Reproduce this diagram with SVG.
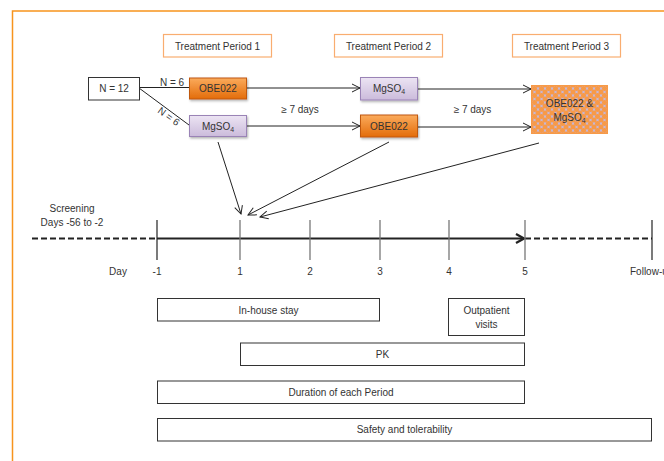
<svg xmlns="http://www.w3.org/2000/svg" width="664" height="461" viewBox="0 0 664 461">
<style>
text{font-family:"Liberation Sans","Open Sans",Arial,sans-serif;font-size:10px;fill:#333;}
.c{text-anchor:middle;}
.hdr{fill:#fff;stroke:#f9ad70;stroke-width:1.2;}
.plain{fill:#fff;stroke:#333;stroke-width:1;}
.ln{stroke:#222;stroke-width:1;fill:none;}
.tick{stroke:#777;stroke-width:1.3;}
.tickb{stroke:#222;stroke-width:1.2;}
</style>
<defs>
<linearGradient id="gO" x1="0" y1="0" x2="0" y2="1"><stop offset="0" stop-color="#fbab5c"/><stop offset="1" stop-color="#e36c0a"/></linearGradient>
<linearGradient id="gM" x1="0" y1="0" x2="0" y2="1"><stop offset="0" stop-color="#ece4f3"/><stop offset="1" stop-color="#cbbbdb"/></linearGradient>
<pattern id="pat" width="7" height="7" patternUnits="userSpaceOnUse" x="531" y="85">
<rect width="7" height="7" fill="#c6b6d6"/>
<circle cx="0" cy="0" r="2.5" fill="#f79a48"/><circle cx="7" cy="0" r="2.5" fill="#f79a48"/><circle cx="0" cy="7" r="2.5" fill="#f79a48"/><circle cx="7" cy="7" r="2.5" fill="#f79a48"/><circle cx="3.5" cy="3.5" r="2.5" fill="#f79a48"/>
</pattern>
<marker id="ah" markerWidth="10" markerHeight="10" refX="9" refY="5" orient="auto" markerUnits="userSpaceOnUse"><path d="M1,1 L9,5 L1,9" fill="none" stroke="#222" stroke-width="1"/></marker>
<marker id="ahb" markerWidth="12" markerHeight="12" refX="10" refY="6" orient="auto" markerUnits="userSpaceOnUse"><path d="M2,1.5 L10,6 L2,10.5" fill="none" stroke="#222" stroke-width="2.2"/></marker>
<filter id="sh" x="-10%" y="-10%" width="130%" height="140%"><feDropShadow dx="1" dy="1.5" stdDeviation="1" flood-color="#000" flood-opacity="0.3"/></filter>
</defs>
<rect x="12.5" y="11" width="700" height="460" fill="none" stroke="#f7941d" stroke-width="1.5"/>

<g id="hdr1"><rect class="hdr" x="163.5" y="34.5" width="108" height="22.5"/><text class="c" x="217.5" y="49.5">Treatment Period 1</text></g>
<g id="hdr2"><rect class="hdr" x="334.5" y="34.5" width="108" height="22.5"/><text class="c" x="388.5" y="49.5">Treatment Period 2</text></g>
<g id="hdr3"><rect class="hdr" x="512.5" y="34.5" width="108" height="22.5"/><text class="c" x="566.5" y="49.5">Treatment Period 3</text></g>

<g id="connectors">
<line class="ln" x1="139" y1="87.5" x2="189" y2="87.5"/>
<line class="ln" x1="139" y1="88" x2="189" y2="125"/>
<line class="ln" x1="247" y1="88" x2="360" y2="88" marker-end="url(#ah)"/>
<line class="ln" x1="247" y1="126" x2="360" y2="126" marker-end="url(#ah)"/>
<line class="ln" x1="417" y1="89" x2="531" y2="89" marker-end="url(#ah)"/>
<line class="ln" x1="417" y1="127" x2="531" y2="127" marker-end="url(#ah)"/>
<line class="ln" x1="218" y1="142" x2="241" y2="214" marker-end="url(#ah)"/>
<line class="ln" x1="389" y1="142" x2="248" y2="215" marker-end="url(#ah)"/>
<line class="ln" x1="539" y1="143" x2="260" y2="217" marker-end="url(#ah)"/>
<text class="c" x="172" y="85.5">N = 6</text>
<text class="c" transform="translate(172,112) rotate(36.5)" x="0" y="9">N = 6</text>
<text class="c" x="300" y="112.5">≥ 7 days</text>
<text class="c" x="472.5" y="112.5">≥ 7 days</text>
</g>

<g id="n12"><rect class="plain" x="88.5" y="77.5" width="51" height="22.5"/><text class="c" x="114" y="92">N = 12</text></g>
<g id="obe1"><rect x="189.5" y="78" width="57" height="21" fill="url(#gO)" stroke="#c0590e" filter="url(#sh)"/><text class="c" x="218" y="92">OBE022</text></g>
<g id="mg1"><rect x="189.5" y="115.5" width="57" height="21" fill="url(#gM)" stroke="#9a83b6" filter="url(#sh)"/><text class="c" x="218" y="129.5">MgSO<tspan font-size="7" dy="2">4</tspan></text></g>
<g id="mg2"><rect x="360.5" y="77.5" width="57" height="22.5" fill="url(#gM)" stroke="#9a83b6" filter="url(#sh)"/><text class="c" x="389" y="92">MgSO<tspan font-size="7" dy="2">4</tspan></text></g>
<g id="obe2"><rect x="360.5" y="115" width="57" height="22" fill="url(#gO)" stroke="#c0590e" filter="url(#sh)"/><text class="c" x="389" y="130">OBE022</text></g>
<g id="combo"><rect x="531.5" y="85.5" width="76" height="48" fill="url(#pat)" stroke="#f79a48"/><text class="c" x="569.5" y="107">OBE022 &amp;</text><text class="c" x="569.5" y="121">MgSO<tspan font-size="7" dy="2">4</tspan></text></g>

<g id="timeline">
<text class="c" x="72" y="212">Screening</text>
<text class="c" x="72" y="226">Days -56 to -2</text>
<line x1="32" y1="238.5" x2="157" y2="238.5" stroke="#222" stroke-width="2.2" stroke-dasharray="6,3"/>
<line x1="157" y1="238.5" x2="524" y2="238.5" stroke="#222" stroke-width="2.2" marker-end="url(#ahb)"/>
<line x1="525" y1="238.5" x2="652" y2="238.5" stroke="#222" stroke-width="2.2" stroke-dasharray="6,3"/>
<line class="tickb" x1="157" y1="220" x2="157" y2="260"/>
<line class="tick" x1="240" y1="220" x2="240" y2="260"/>
<line class="tick" x1="310" y1="220" x2="310" y2="260"/>
<line class="tick" x1="380" y1="220" x2="380" y2="260"/>
<line class="tick" x1="449" y1="220" x2="449" y2="260"/>
<line class="tick" x1="525" y1="220" x2="525" y2="260"/>
<line class="tickb" x1="652" y1="220" x2="652" y2="260"/>
<text class="c" x="118" y="275">Day</text>
<text class="c" x="157" y="275">-1</text>
<text class="c" x="240" y="275">1</text>
<text class="c" x="310" y="275">2</text>
<text class="c" x="380" y="275">3</text>
<text class="c" x="449" y="275">4</text>
<text class="c" x="525" y="275">5</text>
<text x="630" y="275">Follow-up</text>
</g>

<g id="inhouse"><rect class="plain" x="157.5" y="298.5" width="222" height="22.5"/><text class="c" x="268.5" y="313.5">In-house stay</text></g>
<g id="outpatient"><rect class="plain" x="448.5" y="298.5" width="76" height="37"/><text class="c" x="486.5" y="314">Outpatient</text><text class="c" x="486.5" y="327.5">visits</text></g>
<g id="pk"><rect class="plain" x="240.5" y="343" width="284" height="22.5"/><text class="c" x="382.5" y="357.5">PK</text></g>
<g id="duration"><rect class="plain" x="157.5" y="381" width="367" height="22.5"/><text class="c" x="341" y="395.5">Duration of each Period</text></g>
<g id="safety"><rect class="plain" x="157.5" y="418.5" width="494" height="22.5"/><text class="c" x="404.5" y="433">Safety and tolerability</text></g>
</svg>
